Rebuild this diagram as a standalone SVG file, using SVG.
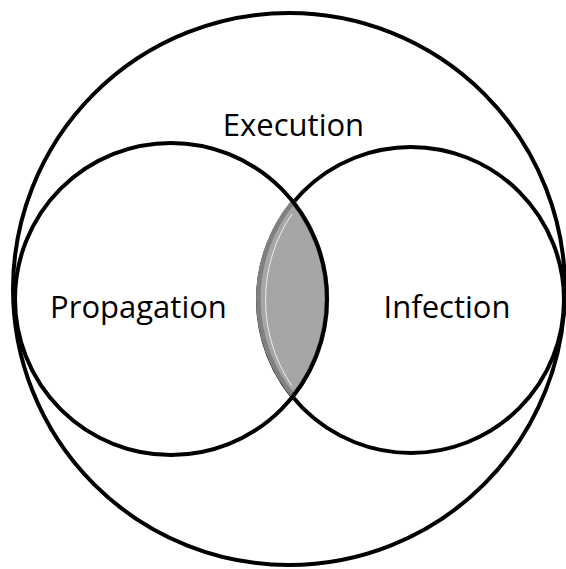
<svg xmlns="http://www.w3.org/2000/svg" width="566" height="569" viewBox="0 0 566 569">
  <style>
    .ring { fill: none; stroke: #000; stroke-width: 4; }
    .label { font-family: "Open Sans", "Liberation Sans", sans-serif; font-size: 31px; fill: #000; text-anchor: middle; }
  </style>
  <rect width="566" height="569" fill="#fff"/>

  <!-- outer set -->
  <g id="execution">
    <circle class="ring" cx="289" cy="289" r="276"/>
    <text class="label" x="293.5" y="136">Execution</text>
  </g>

  <!-- right set -->
  <g id="infection">
    <circle class="ring" cx="411" cy="300" r="153"/>
    <text class="label" x="447" y="318">Infection</text>
  </g>

  <!-- shared region of the two inner sets -->
  <g id="overlap">
    <path d="M293,202 A153,153 0 0 0 293,396 A156,156 0 0 0 293,202 Z" fill="#a6a6a6" stroke="#808080" stroke-width="4.6"/>
    <path d="M292,214 A153,153 0 0 0 292,386" fill="none" stroke="#fff" stroke-width="1" stroke-opacity="0.8"/>
  </g>

  <!-- left set -->
  <g id="propagation">
    <circle class="ring" cx="171" cy="299" r="156"/>
    <text class="label" x="138.5" y="318">Propagation</text>
  </g>

  <g id="connectors"/>
</svg>
